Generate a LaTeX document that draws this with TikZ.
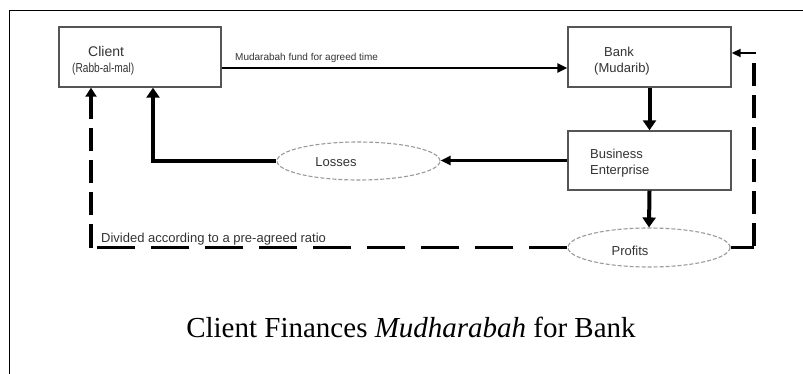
\documentclass[tikz,border=0pt]{standalone}
\usepackage{fontspec}
\setmainfont{Liberation Sans}
\newfontfamily\capfont{Liberation Serif}
\usetikzlibrary{arrows.meta,shapes.geometric,calc}
\definecolor{ink}{HTML}{333333}
\definecolor{edge}{HTML}{555555}
\definecolor{rim}{HTML}{9A9A9A}
\tikzset{
  box/.style={draw=edge,line width=1.4pt,fill=white,inner sep=0pt},
  oval/.style={ellipse,draw=rim,line width=1.1pt,dash pattern=on 4pt off 2pt,inner sep=0pt},
  lbl/.style={text=ink,inner sep=0pt,font=\fontsize{13}{15}\selectfont},
  small/.style={text=ink,inner sep=0pt,font=\fontsize{10}{12}\selectfont},
  heavy/.style={line width=4pt,-{Triangle[length=10pt,width=13pt]}},
  light/.style={line width=2.5pt,-{Triangle[length=10pt,width=9pt]}},
  vdash/.style={line width=4pt,dash pattern=on 23pt off 9pt},
  hdash/.style={line width=3pt,dash pattern=on 38pt off 16pt},
}
\begin{document}
\begin{tikzpicture}[x=1pt,y=-1pt]
\useasboundingbox (0,0) rectangle (803,374);
% frame
\draw[line width=1pt] (9,374) -- (9,11) -- (803,11);

% boxes
\node[box,minimum width=162pt,minimum height=60pt] (client) at (140,57) {};
\node[box,minimum width=163pt,minimum height=60pt] (bank) at (649.5,57) {};
\node[box,minimum width=163pt,minimum height=59pt] (biz) at (649.5,160.5) {};
\node[oval,minimum width=163pt,minimum height=38pt] (loss) at (358.5,161) {};
\node[oval,minimum width=162pt,minimum height=39pt] (prof) at (649,247.5) {};

% box texts
\node[lbl,anchor=base west,font=\fontsize{14}{16}\selectfont] (clientT) at (88,57) {Client};
\node[lbl,anchor=base west] (clientR) at (72,73) {\scalebox{0.78}[1]{(Rabb-al-mal)}};
\node[lbl,anchor=base] (bankT) at (619,57) {Bank};
\node[lbl,anchor=base] (bankR) at (622,73) {(Mudarib)};
\node[lbl,anchor=base west] (bizT) at (590,159) {Business};
\node[lbl,anchor=base west] (bizR) at (590,175) {Enterprise};
\node[lbl,anchor=base] (lossT) at (336,167) {Losses};
\node[lbl,anchor=base] (profT) at (630,255) {Profits};

% flows
\draw[light] ($(client.east)+(0,11)$) -- ($(bank.west)+(0,11)$);
\node[small,anchor=base west] (fund) at (235,60.5) {Mudarabah fund for agreed time};
\draw[heavy] (bank.south) -- (biz.north);
\draw[heavy] (biz.south) -- (prof.north);
\draw[light] (biz.west) -- (biz.west -| loss.east);
\draw[heavy] (loss.west) -| ($(client.south)+(13,0)$);

% profit sharing
\coordinate (lc) at (91,247.5);
\coordinate (rc) at (754,247.5);
\coordinate (rt) at (754,53);
\draw[hdash] (prof.west) -- (lc);
\draw[vdash,-{Triangle[length=9pt,width=11pt]}] (lc) -- ($(client.south)+(-49,0)$);
\node[lbl,anchor=base west] (ratio) at (101,243) {Divided according to a pre-agreed ratio};
\draw[line width=2.5pt] (prof.east) -- (rc);
\draw[vdash] ([yshift=1.25pt]rc) -- (rt);
\draw[line width=2pt,-{Triangle[length=9pt,width=8pt]}] ([xshift=2pt]rt) -- ($(bank.east)+(0,-4)$);

% caption
\node[anchor=base,inner sep=0pt,font=\capfont\fontsize{29}{33}\selectfont] (cap) at (411,337)
  {Client Finances \textit{Mudharabah} for Bank};
\end{tikzpicture}
\end{document}
